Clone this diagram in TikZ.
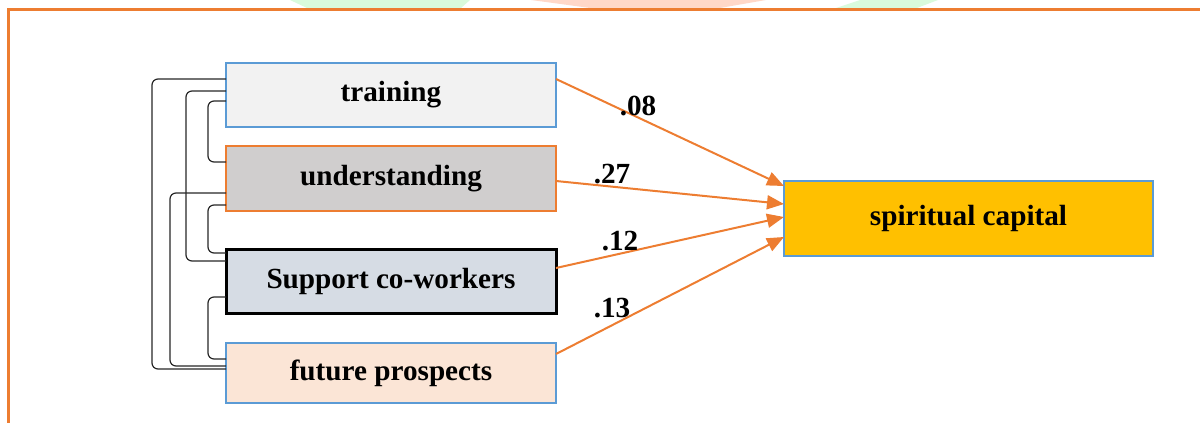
\documentclass[tikz,border=0pt]{standalone}
\usepackage{fontspec}
\setmainfont{Liberation Serif}
\usetikzlibrary{arrows.meta,calc}
\definecolor{bblue}{HTML}{5B9BD5}
\definecolor{borange}{HTML}{ED7D31}
\definecolor{fgray}{HTML}{F2F2F2}
\definecolor{fgray2}{HTML}{D0CECE}
\definecolor{fblue}{HTML}{D6DCE4}
\definecolor{fpeach}{HTML}{FBE5D6}
\definecolor{fgold}{HTML}{FFC000}
\definecolor{wgreen}{HTML}{D9FBDC}
\definecolor{worange}{HTML}{FFD8C8}
\tikzset{
  box/.style={draw=bblue,line width=1pt,minimum width=165pt,inner sep=0pt,outer sep=0pt,
    font=\fontsize{14.6}{17}\selectfont\bfseries},
  lbl/.style={font=\fontsize{14.6}{17}\selectfont\bfseries,inner sep=0pt},
  effarrow/.style={draw=borange,line width=1pt,-{Triangle[length=8.5pt,width=7pt]}},
  corr/.style={draw=black!85,line width=0.6pt,rounded corners=3pt},
  frameline/.style={draw=borange,line width=1.5pt}
}
\begin{document}
\begin{tikzpicture}[x=0.5pt,y=-0.5pt]
\useasboundingbox (0,0) rectangle (1200,423);
% watermark fragments at top
\fill[wgreen] (290,0) -- (470,0) -- (461,8) -- (307,8) -- cycle;
\fill[worange] (531,0) -- (766,0) -- (720,8) -- (590,8) -- cycle;
\fill[wgreen] (860,0) -- (938,0) -- (917,8) -- (836,8) -- cycle;
% frame
\coordinate (ftr) at (1205,9);
\coordinate (ftl) at (8,9);
\coordinate (fbl) at (8,430);
\draw[frameline] (ftr) -- (ftl) -- (fbl);
% nodes
\node[box,fill=fgray,minimum height=32pt] (train) at (391,95) {training};
\node[box,fill=fgray2,draw=borange,minimum height=32.5pt] (und) at (391,178.5) {understanding};
\node[box,fill=fblue,draw=black,line width=1.5pt,minimum height=32pt] (sup) at (391,281) {Support co-workers};
\node[box,fill=fpeach,minimum height=30pt] (fut) at (391,373) {future prospects};
\node[box,fill=fgold,minimum width=184.5pt,minimum height=37.5pt] (sc) at (968.5,218.5) {spiritual capital};
% paths
\draw[effarrow] ([yshift=8pt]train.east) -- ([yshift=16.25pt]sc.west);
\draw[effarrow] ([yshift=-1.25pt]und.east) -- ([yshift=7.25pt]sc.west);
\draw[effarrow] ([yshift=6.5pt]sup.east) -- ([yshift=0.75pt]sc.west);
\draw[effarrow] ([yshift=9.5pt]fut.east) -- ([yshift=-9.25pt]sc.west);
% labels
\node[lbl] (l1) at (638,106) {.08};
\node[lbl] (l2) at (612,174) {.27};
\node[lbl] (l3) at (620,241) {.12};
\node[lbl] (l4) at (612,308) {.13};
% correlations
\draw[corr] ([yshift=8pt]train.west) -- ++(-37pt,0) |- ([yshift=2pt]fut.west);
\draw[corr] ([yshift=2pt]train.west) -- ++(-20pt,0) |- ([yshift=10pt]sup.west);
\draw[corr] ([yshift=-3pt]train.west) -- ++(-9pt,0) |- ([yshift=8.25pt]und.west);
\draw[corr] ([yshift=-7.25pt]und.west) -- ++(-28pt,0) |- ([yshift=3.5pt]fut.west);
\draw[corr] ([yshift=-13.25pt]und.west) -- ++(-9pt,0) |- ([yshift=14pt]sup.west);
\draw[corr] ([yshift=-8pt]sup.west) -- ++(-9pt,0) |- ([yshift=7pt]fut.west);
\end{tikzpicture}
\end{document}
